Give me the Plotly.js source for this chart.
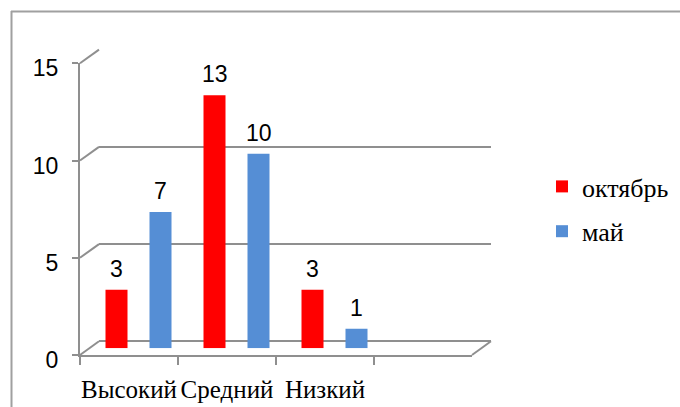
<!DOCTYPE html>
<html>
<head>
<meta charset="utf-8">
<script src="https://cdn.plot.ly/plotly-3.0.1.min.js"></script>
<style>html,body{margin:0;padding:0;background:#fff;}#chart{width:680px;height:407px;}</style>
</head>
<body>
<div id="chart"></div>
<script>
// ---- data ----
const categories = ['Высокий', 'Средний', 'Низкий', ' '];
const seriesNames = ['октябрь', 'май'];
const octoberValues = [3, 13, 3, null];
const mayValues = [7, 10, 1, null];
const yTickValues = [0, 5, 10, 15];

// ---- geometry (pixels) ----
const W = 680, H = 407;
const FRONT = {x0: 80, x1: 472, y0: 355, y15: 63.3};
const DX = 19, DY = 13.7;
const fx = x => x / W;
const fy = y => 1 - y / H;
const yMax = 15;
const frontY = v => FRONT.y0 - v * (FRONT.y0 - FRONT.y15) / yMax;
const backY = v => frontY(v) - DY;
const gridColor = '#8f8f8f';
const red = '#FF0000', blue = '#558ED5';
const SERIF = 'Liberation Serif';
const SANS = 'Liberation Sans';

function dom(off) {
  return {
    x: [fx(FRONT.x0 + DX * off), fx(FRONT.x1 + DX * off)],
    y: [fy(FRONT.y0 - DY * off), fy(FRONT.y15 - DY * off)]
  };
}
const dFront = dom(0), dMid = dom(0.5), dBack = dom(1);

const traces = [
  {type: 'scatter', mode: 'none', x: categories, y: octoberValues, xaxis: 'x', yaxis: 'y', showlegend: false, hoverinfo: 'skip'},
  {type: 'scatter', mode: 'none', x: categories, y: octoberValues, xaxis: 'x2', yaxis: 'y2', showlegend: false, hoverinfo: 'skip'},
  {type: 'bar', name: seriesNames[0], legendgroup: 'a', x: categories, y: octoberValues, xaxis: 'x3', yaxis: 'y3',
   marker: {color: red}, hoverinfo: 'skip'},
  {type: 'bar', name: seriesNames[1], legendgroup: 'b', x: categories, y: mayValues, xaxis: 'x3', yaxis: 'y3',
   marker: {color: blue}, hoverinfo: 'skip'}
];

const annotations = [];
[octoberValues, mayValues].forEach((vals, si) => {
  vals.forEach((v, i) => {
    if (v === null) return;
    annotations.push({
      x: categories[i], y: v, xref: 'x3', yref: 'y3', text: String(v), showarrow: false,
      xshift: si === 0 ? -22 : 22, yshift: 21, yanchor: 'middle',
      font: {family: SANS, size: 23, color: '#000'}
    });
  });
});

const shapes = [];
yTickValues.forEach(v => {
  shapes.push({type: 'line', xref: 'paper', yref: 'paper',
    x0: fx(FRONT.x0), y0: fy(frontY(v)), x1: fx(FRONT.x0 + DX), y1: fy(backY(v)),
    line: {color: gridColor, width: 2}});
});
shapes.push({type: 'line', xref: 'paper', yref: 'paper',
  x0: fx(FRONT.x1), y0: fy(frontY(0)), x1: fx(FRONT.x1 + DX), y1: fy(backY(0)),
  line: {color: gridColor, width: 2}});
shapes.push({type: 'line', xref: 'paper', yref: 'paper', x0: fx(11.5), y0: fy(11), x1: fx(11.5), y1: 0,
  line: {color: '#a0a0a0', width: 2}});
shapes.push({type: 'line', xref: 'paper', yref: 'paper', x0: fx(11), y0: fy(11.5), x1: 1, y1: fy(11.5),
  line: {color: '#a0a0a0', width: 2}});

const catRange = [-0.5, categories.length - 0.5];
const layout = {
  width: W, height: H,
  margin: {l: 0, r: 0, t: 0, b: 0, autoexpand: false},
  font: {family: SERIF, color: '#000'},
  paper_bgcolor: '#fff', plot_bgcolor: 'rgba(0,0,0,0)',
  showlegend: true,
  barmode: 'group', bargap: 0.102, bargroupgap: 0.5,
  xaxis: {type: 'category', domain: dFront.x, range: catRange, anchor: 'y',
    categoryorder: 'array', categoryarray: categories,
    showline: true, linecolor: gridColor, linewidth: 2, showgrid: false, zeroline: false,
    ticks: 'outside', tickson: 'boundaries', ticklen: 8, tickcolor: gridColor, tickwidth: 2,
    tickangle: 0,
    tickfont: {family: SERIF, size: 25, color: '#000'},
    ticklabelstandoff: 11, fixedrange: true},
  yaxis: {domain: dFront.y, range: [0, yMax], anchor: 'x', tickvals: yTickValues,
    showline: true, linecolor: gridColor, linewidth: 2, showgrid: false, zeroline: false,
    ticks: 'outside', ticklen: 6, tickcolor: gridColor, tickwidth: 2,
    tickfont: {family: SANS, size: 23, color: '#000'},
    ticklabelstandoff: 9, ticklabelshift: 5, fixedrange: true},
  xaxis2: {type: 'category', domain: dBack.x, range: catRange, anchor: 'y2',
    categoryorder: 'array', categoryarray: categories,
    showline: false, showgrid: false, zeroline: false, showticklabels: false, ticks: ''},
  yaxis2: {domain: dBack.y, range: [0, yMax], anchor: 'x2', tickvals: yTickValues,
    showline: false, showgrid: true, gridcolor: gridColor, gridwidth: 2,
    zeroline: true, zerolinecolor: gridColor, zerolinewidth: 2, showticklabels: false, ticks: ''},
  xaxis3: {type: 'category', domain: dMid.x, range: catRange, anchor: 'y3',
    categoryorder: 'array', categoryarray: categories,
    showline: false, showgrid: false, zeroline: false, showticklabels: false, ticks: ''},
  yaxis3: {domain: dMid.y, range: [0, yMax], anchor: 'x3',
    showline: false, showgrid: false, zeroline: false, showticklabels: false, ticks: ''},
  legend: {x: fx(542), y: fy(163), xanchor: 'left', yanchor: 'top',
    traceorder: 'grouped', tracegroupgap: 8,
    font: {family: SERIF, size: 26, color: '#000'},
    bgcolor: 'rgba(0,0,0,0)', itemclick: false, itemdoubleclick: false},
  annotations: annotations,
  shapes: shapes
};

Plotly.newPlot('chart', traces, layout, {displayModeBar: false, staticPlot: true});
</script>
</body>
</html>
